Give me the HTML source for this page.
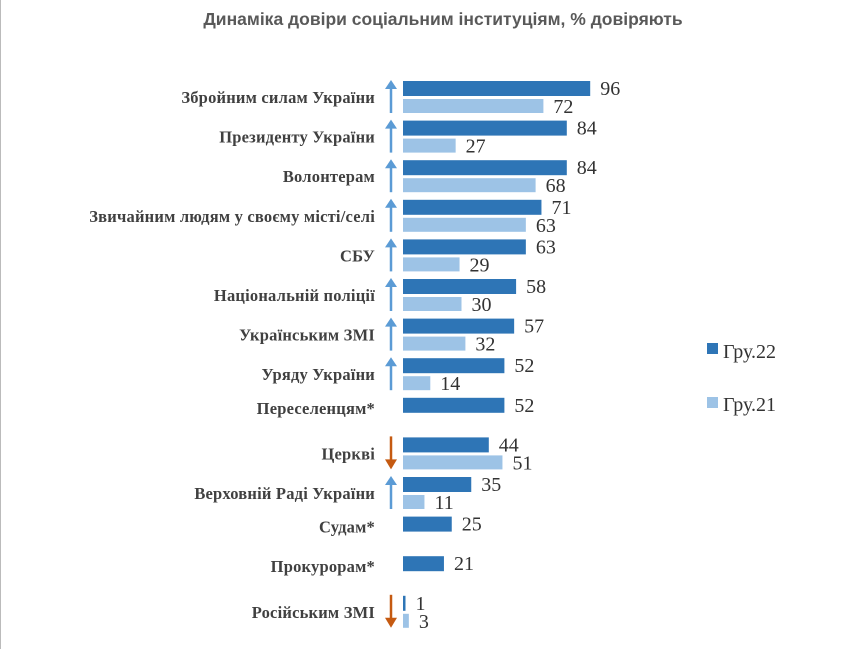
<!DOCTYPE html>
<html><head><meta charset="utf-8"><style>
body{margin:0;width:845px;height:649px;background:#fff;overflow:hidden}
</style></head><body>
<svg width="845" height="649" xmlns="http://www.w3.org/2000/svg">
<line x1="0.5" y1="0" x2="0.5" y2="649" stroke="#bbb"/>
<text x="443" y="25" text-anchor="middle" font-family="Liberation Sans, sans-serif" font-weight="bold" font-size="17.5" fill="#595959">Динаміка довіри соціальним інституціям, % довіряють</text>
<g id="rows"></g>
<rect x="707" y="343" width="11" height="11" fill="#2e75b6"/>
<text x="723" y="358" font-family="Liberation Serif, serif" font-size="20" fill="#333">Гру.22</text>
<rect x="707" y="397" width="11" height="11" fill="#9dc3e6"/>
<text x="723" y="411" font-family="Liberation Serif, serif" font-size="20" fill="#333">Гру.21</text>
</svg>
<script>
const d=[["Збройним силам України",96,72,"u"],["Президенту України",84,27,"u"],["Волонтерам",84,68,"u"],["Звичайним людям у своєму місті/селі",71,63,"u"],["СБУ",63,29,"u"],["Національній поліції",58,30,"u"],["Українським ЗМІ",57,32,"u"],["Уряду України",52,14,"u"],["Переселенцям*",52,null,""],["Церкві",44,51,"d"],["Верховній Раді України",35,11,"u"],["Судам*",25,null,""],["Прокурорам*",21,null,""],["Російським ЗМІ",1,3,"d"]];
let s="";const ns='font-family="Liberation Serif, serif"';
d.forEach((r,i)=>{const y=81+39.6*i;const ly=r[2]==null?y+16:y+22;
s+=`<text x="375" y="${ly}" text-anchor="end" ${ns} font-weight="bold" font-size="16.5" letter-spacing="0.2" fill="#404040">${r[0]}</text>`;
const w1=Math.max(r[1]*1.95,2.5);s+=`<rect x="403" y="${y}" width="${w1}" height="15" fill="#2e75b6"/>`;
s+=`<text x="${403+w1+10}" y="${y+14}" ${ns} font-size="20" fill="#333">${r[1]}</text>`;
if(r[2]!=null){const w2=Math.max(r[2]*1.95,2.5);s+=`<rect x="403" y="${y+18}" width="${w2}" height="14" fill="#9dc3e6"/>`;
s+=`<text x="${403+w2+10}" y="${y+32}" ${ns} font-size="20" fill="#333">${r[2]}</text>`;}
if(r[3]=="u"){s+=`<line x1="391" y1="${y+6}" x2="391" y2="${y+32}" stroke="#5b9bd5" stroke-width="2.5"/><polygon points="385,${y+8} 397,${y+8} 391,${y-1}" fill="#5b9bd5"/>`;}
if(r[3]=="d"){s+=`<line x1="391" y1="${y-1}" x2="391" y2="${y+24}" stroke="#c55a11" stroke-width="2.5"/><polygon points="385,${y+22} 397,${y+22} 391,${y+32}" fill="#c55a11"/>`;}
});
document.getElementById("rows").innerHTML=s;
</script>
</body></html>
